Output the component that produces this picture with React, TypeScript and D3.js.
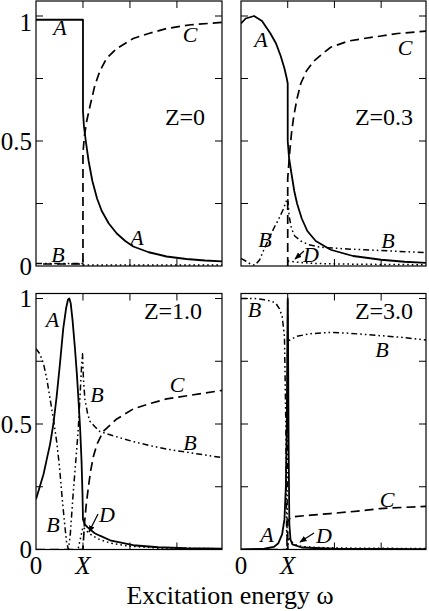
import React from "react";
import * as d3 from "d3";

type Pt = [number, number];

// panel Z=0
const z0A: Pt[] = [[0, 0.985], [1, 0.985], [1, 0.62], [1.02, 0.56], [1.06, 0.5], [1.12, 0.42], [1.2, 0.34], [1.3, 0.27], [1.4, 0.22], [1.55, 0.17], [1.72, 0.13], [1.9, 0.1], [2.07, 0.078], [2.4, 0.055], [2.78, 0.038], [3.2, 0.028], [3.6, 0.022], [4, 0.018]];
const z0B: Pt[] = [[0, 0.01], [1, 0.01]];
const z0C: Pt[] = [[0.15, 0.008], [1, 0.008], [1, 0.45], [1.03, 0.52], [1.08, 0.58], [1.15, 0.64], [1.25, 0.72], [1.36, 0.78], [1.5, 0.83], [1.72, 0.87], [2.07, 0.91], [2.4, 0.93], [2.78, 0.95], [3.3, 0.965], [4, 0.975]];
const z0D: Pt[] = [[1, 0.004], [4, 0.004]];

// panel Z=0.3
const z3A: Pt[] = [[0, 0.97], [0.1, 0.99], [0.28, 1.0], [0.45, 0.98], [0.63, 0.93], [0.75, 0.89], [0.85, 0.84], [0.93, 0.79], [0.98, 0.75], [1, 0.73], [1, 0.5], [1.03, 0.43], [1.08, 0.37], [1.14, 0.3], [1.2, 0.25], [1.3, 0.19], [1.42, 0.14], [1.6, 0.1], [1.92, 0.065], [2.4, 0.04], [3, 0.025], [3.5, 0.017], [4, 0.012]];
const z3B: Pt[] = [[0, 0.03], [0.1, 0.02], [0.2, 0.008], [0.3, 0.003], [0.4, 0.025], [0.5, 0.07], [0.6, 0.11], [0.7, 0.15], [0.8, 0.185], [0.9, 0.225], [0.97, 0.26], [1, 0.27], [1.03, 0.2], [1.08, 0.15], [1.15, 0.12], [1.28, 0.1], [1.45, 0.085], [1.7, 0.075], [2.27, 0.068], [3, 0.062], [4, 0.053]];
const z3C: Pt[] = [[1, 0], [1, 0.35], [1.04, 0.45], [1.08, 0.53], [1.13, 0.6], [1.2, 0.67], [1.28, 0.73], [1.4, 0.78], [1.56, 0.82], [1.75, 0.85], [1.92, 0.875], [2.3, 0.9], [2.63, 0.91], [3, 0.92], [3.35, 0.93], [4, 0.94]];
const z3D: Pt[] = [[1, 0.02], [1.2, 0.015], [1.6, 0.01], [2.5, 0.007], [4, 0.005]];

// panel Z=1.0
const z1A: Pt[] = [[0, 0.2], [0.08, 0.25], [0.16, 0.3], [0.23, 0.36], [0.3, 0.42], [0.37, 0.5], [0.44, 0.61], [0.51, 0.74], [0.58, 0.88], [0.64, 0.96], [0.68, 0.995], [0.71, 1.0], [0.74, 0.98], [0.78, 0.91], [0.83, 0.8], [0.87, 0.7], [0.9, 0.61], [0.94, 0.48], [0.97, 0.35], [0.99, 0.22], [1.0, 0.12], [1.04, 0.1], [1.1, 0.088], [1.15, 0.08], [1.25, 0.065], [1.36, 0.055], [1.6, 0.035], [2.07, 0.017], [2.6, 0.009], [3.2, 0.005], [4, 0.003]];
const z1B: Pt[] = [[0, 0.8], [0.08, 0.78], [0.16, 0.74], [0.23, 0.68], [0.3, 0.6], [0.37, 0.52], [0.44, 0.43], [0.5, 0.33], [0.55, 0.22], [0.6, 0.12], [0.65, 0.03], [0.69, 0.0], [0.73, 0.06], [0.79, 0.22], [0.85, 0.36], [0.9, 0.48], [0.94, 0.62], [0.97, 0.73], [0.99, 0.78], [1.01, 0.68], [1.04, 0.6], [1.1, 0.54], [1.15, 0.51], [1.25, 0.49], [1.36, 0.47], [1.7, 0.45], [2.07, 0.43], [2.4, 0.415], [2.78, 0.4], [3.3, 0.385], [4, 0.365]];
const z1C: Pt[] = [[0, 0], [1, 0], [1.03, 0.1], [1.07, 0.18], [1.11, 0.24], [1.16, 0.31], [1.22, 0.37], [1.3, 0.42], [1.43, 0.47], [1.6, 0.5], [1.72, 0.52], [2.07, 0.56], [2.4, 0.58], [2.78, 0.6], [3.3, 0.615], [4, 0.635]];
const z1D: Pt[] = [[0.9, 0.005], [1, 0.09], [1.05, 0.08], [1.1, 0.07], [1.2, 0.055], [1.35, 0.04], [1.6, 0.025], [2, 0.013], [2.6, 0.006], [4, 0.003]];

// panel Z=3.0
const z30A: Pt[] = [[0, 0.0], [0.5, 0.003], [0.7, 0.01], [0.8, 0.025], [0.88, 0.06], [0.93, 0.12], [0.96, 0.25], [0.98, 0.5], [0.995, 0.9], [1.0, 1.0], [1.005, 0.9], [1.02, 0.4], [1.035, 0.1], [1.06, 0.04], [1.1, 0.02], [1.3, 0.008], [2, 0.003], [4, 0.001]];
const z30B: Pt[] = [[0, 1.0], [0.3, 1.0], [0.5, 0.995], [0.65, 0.99], [0.75, 0.98], [0.82, 0.96], [0.88, 0.93], [0.93, 0.85], [0.96, 0.5], [0.975, 0.1], [0.985, 0.0], [0.995, 0.5], [1.0, 0.99], [1.005, 0.83], [1.05, 0.835], [1.2, 0.85], [1.5, 0.86], [1.91, 0.865], [2.3, 0.862], [2.63, 0.857], [3.34, 0.847], [4, 0.834]];
const z30C: Pt[] = [[0, 0], [1, 0], [1.0, 0.11], [1.05, 0.125], [1.09, 0.13], [1.5, 0.137], [1.91, 0.143], [2.5, 0.153], [2.98, 0.163], [3.5, 0.168], [4, 0.172]];
const z30D: Pt[] = [[1, 0.0], [1.02, 0.05], [1.06, 0.035], [1.15, 0.02], [1.3, 0.012], [1.6, 0.008], [2.5, 0.005], [4, 0.004]];

const xTicks = [1, 2, 3];
const yTicks = [0.25, 0.5, 0.75, 1];
const yTickLabels = [
  { v: 1, t: "1" },
  { v: 0.5, t: "0.5" },
  { v: 0, t: "0" },
];
const xTickLabels = [
  { v: 0, t: "0", italic: false },
  { v: 1, t: "X", italic: true },
];

const SERIF = "'Liberation Serif', 'Times New Roman', serif";

const lineStyle: Record<string, { dash?: string; w: number }> = {
  A: { w: 1.8 },
  B: { dash: "6,3,1.6,3,1.6,3", w: 1.5 },
  C: { dash: "9,5", w: 1.7 },
  D: { dash: "1.6,3", w: 1.5 },
};

type Label = { t: string; x: number; y: number };
type Arrow = [number, number, number, number];

const panels = [
  {
    id: "p0", z: "Z=0", zx: 185, zy: 125, box: [36, 1, 222, 266], yMax: 1.06, left: true, bottom: false,
    series: { C: z0C, B: z0B, D: z0D, A: z0A },
    labels: [{ t: "A", x: 60, y: 35 }, { t: "C", x: 190, y: 42 }, { t: "A", x: 137, y: 245 }, { t: "B", x: 58, y: 262 }] as Label[],
    arrows: [] as Arrow[],
  },
  {
    id: "p1", z: "Z=0.3", zx: 384, zy: 125, box: [241, 1, 426, 266], yMax: 1.06, left: false, bottom: false,
    series: { C: z3C, B: z3B, D: z3D, A: z3A },
    labels: [{ t: "A", x: 261, y: 47 }, { t: "C", x: 405, y: 55 }, { t: "B", x: 265, y: 247 }, { t: "D", x: 311, y: 262 }, { t: "B", x: 388, y: 248 }] as Label[],
    arrows: [[304, 251, 295, 259]] as Arrow[],
  },
  {
    id: "p2", z: "Z=1.0", zx: 173, zy: 318.5, box: [36, 293.5, 222, 549.5], yMax: 1.02, left: true, bottom: true,
    series: { C: z1C, B: z1B, D: z1D, A: z1A },
    labels: [{ t: "A", x: 52.5, y: 327 }, { t: "C", x: 177, y: 392 }, { t: "B", x: 97, y: 402 }, { t: "B", x: 190, y: 450 }, { t: "B", x: 53, y: 532 }, { t: "D", x: 107, y: 522 }] as Label[],
    arrows: [[98, 514, 89, 532]] as Arrow[],
  },
  {
    id: "p3", z: "Z=3.0", zx: 384, zy: 318.5, box: [241, 293.5, 426, 549.5], yMax: 1.02, left: false, bottom: true,
    series: { C: z30C, B: z30B, D: z30D, A: z30A },
    labels: [{ t: "B", x: 254.5, y: 317 }, { t: "B", x: 382, y: 357 }, { t: "C", x: 387, y: 507 }, { t: "A", x: 267, y: 542 }, { t: "D", x: 324, y: 543 }] as Label[],
    arrows: [[314, 533, 300, 542]] as Arrow[],
  },
];

export default function App() {
  return (
    <svg width={429} height={611} style={{ position: "absolute", left: 0, top: 0, background: "#fff" }} fontFamily={SERIF}>
      <defs>
        <marker id="ah" viewBox="0 0 10 10" refX="9" refY="5" markerWidth="6" markerHeight="6" orient="auto">
          <path d="M0,1 L10,5 L0,9 z" fill="#000" />
        </marker>
        {panels.map((p) => (
          <clipPath id={"clip-" + p.id} key={p.id}>
            <rect x={p.box[0]} y={p.box[1]} width={p.box[2] - p.box[0]} height={p.box[3] - p.box[1]} />
          </clipPath>
        ))}
      </defs>
      {panels.map((p) => {
        const [x0, y0, x1, y1] = p.box;
        const x = d3.scaleLinear().domain([0, 3.96]).range([x0, x1]);
        const y = d3.scaleLinear().domain([0, p.yMax]).range([y1, y0]);
        const line = d3.line<Pt>().x((d) => x(d[0])).y((d) => y(d[1]));
        return (
          <g key={p.id}>
            <g clipPath={`url(#clip-${p.id})`}>
              {Object.entries(p.series).map(([k, pts]) => (
                <path key={k} d={line(pts) || ""} fill="none" stroke="#000" strokeWidth={lineStyle[k].w} strokeDasharray={lineStyle[k].dash} strokeLinejoin="round" />
              ))}
            </g>
            <rect x={x0} y={y0} width={x1 - x0} height={y1 - y0} fill="none" stroke="#000" strokeWidth={1.2} />
            {yTicks.map((t) => (
              <g key={"yt" + t}>
                <line x1={x0} x2={x0 + 7} y1={y(t)} y2={y(t)} stroke="#000" strokeWidth={1} />
                <line x1={x1} x2={x1 - 7} y1={y(t)} y2={y(t)} stroke="#000" strokeWidth={1} />
              </g>
            ))}
            {xTicks.map((t) => (
              <g key={"xt" + t}>
                <line x1={x(t)} x2={x(t)} y1={y0} y2={y0 + 7} stroke="#000" strokeWidth={1} />
                <line x1={x(t)} x2={x(t)} y1={y1} y2={y1 - 7} stroke="#000" strokeWidth={1} />
              </g>
            ))}
            {p.left &&
              yTickLabels.map((l) => (
                <text key={"yl" + l.t} x={32} y={y(l.v) + (l.v === 1 && !p.bottom ? 15 : 8.5)} textAnchor="end" fontSize={25}>
                  {l.t}
                </text>
              ))}
            {p.bottom &&
              xTickLabels.map((l) => (
                <text key={"xl" + l.t} x={x(l.v)} y={573.5} textAnchor="middle" fontSize={25} fontStyle={l.italic ? "italic" : "normal"}>
                  {l.t}
                </text>
              ))}
            <text x={p.zx} y={p.zy} textAnchor="middle" fontSize={24}>
              {p.z}
            </text>
            {p.labels.map((l, i) => (
              <text key={"lb" + i} x={l.x} y={l.y} textAnchor="middle" fontSize={22} fontStyle="italic">
                {l.t}
              </text>
            ))}
            {p.arrows.map((a, i) => (
              <line key={"ar" + i} x1={a[0]} y1={a[1]} x2={a[2]} y2={a[3]} stroke="#000" strokeWidth={1.2} markerEnd="url(#ah)" />
            ))}
          </g>
        );
      })}
      <text x={230} y={603.5} textAnchor="middle" fontSize={26}>
        Excitation energy ω
      </text>
    </svg>
  );
}
